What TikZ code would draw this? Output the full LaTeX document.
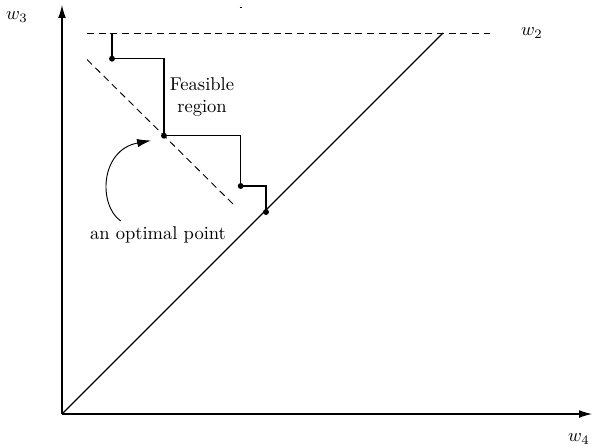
\documentclass[tikz,border=0pt]{standalone}
\usetikzlibrary{arrows.meta}
\begin{document}
\begin{tikzpicture}[x=0.54pt,y=-0.54pt,
  axis/.style={line width=0.6pt,-{Latex[length=7pt,width=4.2pt]}},
  stair/.style={line width=0.7pt},
  dashline/.style={line width=0.5pt,dash pattern=on 3.8pt off 2.5pt},
  pt/.style={circle,fill=black,inner sep=0pt,minimum size=3.2pt},
  lbl/.style={inner sep=0pt}]
\useasboundingbox (0,0) rectangle (592,446);
% axes
\coordinate (O) at (62,414);
\coordinate (Ytop) at (62,5);
\coordinate (Xend) at (592,414);
\draw[axis] (O) -- (Ytop);
\draw[axis] (O) -- (Xend);
\node[lbl] (w3) at (17,17) {$w_3$};
\node[lbl] (w4) at (579,439) {$w_4$};
% top dashed line
\coordinate (Dl) at (87,33);
\coordinate (Dr) at (490,33);
\draw[dashline] (Dl) -- (Dr);
\node[lbl] (w2) at (532,33) {$w_2$};
% diagonal
\coordinate (T) at (443,33);
\draw[line width=0.6pt] (O) -- (T);
% staircase
\coordinate (S0) at (112,33);
\node[pt] (P1) at (112,58.7) {};
\node[pt] (P2) at (164,135.7) {};
\node[pt] (P3) at (240.7,186) {};
\node[pt] (P4) at (266,212) {};
\draw[stair] (S0) -- (P1.center) -| (P2.center) -| (P3.center) -| (P4.center);
% dashed diagonal
\coordinate (Ea) at (87,59.5);
\coordinate (Eb) at (236,207);
\draw[dashline] (Ea) -- (Eb);
% labels
\node[lbl,align=center] (fr) at (202,97) {Feasible\\region};
\node[lbl] (op) at (158,235) {an optimal point};
\coordinate (As) at (120.7,221);
\coordinate (At) at (151,140.5);
\draw[line width=0.5pt,-{Latex[length=7.5pt,width=4.5pt]}] (As) .. controls (98,205) and (100,150) .. (At);
% stray mark
\coordinate (M1) at (239.5,7);
\coordinate (M2) at (241.5,7);
\draw[line width=0.5pt] (M1) -- (M2);
\end{tikzpicture}
\end{document}
